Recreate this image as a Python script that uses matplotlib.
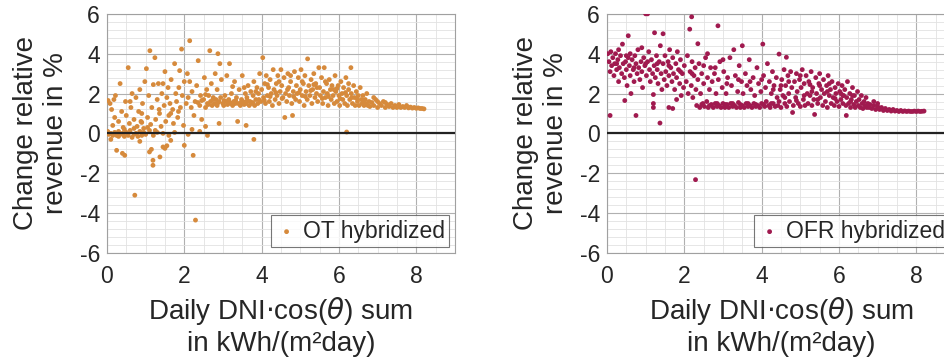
import matplotlib
matplotlib.use("Agg")
import matplotlib.pyplot as plt
import numpy as np
from matplotlib.ticker import MultipleLocator

plt.rcParams['font.family'] = ['Liberation Sans', 'DejaVu Sans']
plt.rcParams['axes.unicode_minus'] = False

# OT hybridized: (daily DNI*cos sum, change of revenue in %)
ot_points = np.array([
    (0.02,0.1),(0.05,-0.05),(0.1,0.0),(0.15,-0.1),(0.2,0.05),(0.25,-0.1),(0.3,0.1),(0.35,-0.05),(0.4,0.0),
    (0.45,-0.15),(0.5,0.05),(0.55,-0.1),(0.6,0.15),(0.7,-0.05),(0.75,0.0),(0.8,-0.15),(0.85,0.1),(0.9,-0.1),
    (0.95,0.05),(1.0,-0.05),(1.1,0.15),(1.2,-0.1),(1.3,0.05),(1.45,0.0),(1.6,-0.1),(1.75,0.05),(2.1,-0.05),
    (2.4,0.1),(2.6,-0.1),(0.3,-0.15),(0.65,-0.2),
    (0.25,-0.85),(0.4,-1.0),(0.46,-1.1),(1.1,-0.93),(1.15,-0.8),(1.19,-1.35),(1.19,-1.6),(1.37,-1.18),
    (1.45,-0.68),(1.5,-0.75),(1.55,-0.62),(2.0,-0.6),(2.23,-1.1),(3.8,-0.3),(0.72,-3.1),(2.29,-4.35),
    (0.85,-0.4),(1.65,-0.35),(0.1,-0.3),(6.2,0.07),
    (0.03,1.65),(0.08,1.5),(0.12,1.2),(0.15,0.4),(0.2,0.8),(0.22,1.9),(0.3,0.6),(0.34,2.5),(0.38,1.1),
    (0.42,0.3),(0.48,1.6),(0.5,0.9),(0.55,3.3),(0.58,0.5),(0.62,1.3),(0.65,2.0),(0.7,0.7),(0.75,1.8),
    (0.78,0.35),(0.82,1.1),(0.85,2.2),(0.88,0.6),(0.92,1.5),(0.95,0.25),(0.98,2.6),(1.02,3.25),(1.05,0.8),
    (1.08,1.9),(1.11,4.15),(1.13,0.45),(1.16,1.3),(1.2,2.45),(1.24,3.8),(1.26,0.7),(1.3,1.7),(1.33,2.5),
    (1.36,1.0),(1.4,0.35),(1.42,2.0),(1.45,2.5),(1.48,1.4),(1.5,3.1),(1.52,0.6),(1.55,1.8),(1.58,2.3),
    (1.6,0.9),(1.63,1.5),(1.66,2.7),(1.7,1.2),(1.72,0.5),(1.75,3.5),(1.78,2.0),(1.8,1.6),(1.83,0.8),
    (1.86,2.3),(1.88,3.15),(1.9,1.3),(1.93,4.23),(1.95,1.9),(1.98,0.4),(2.0,2.6),(0.18,1.7),(0.6,1.6),
    (0.9,1.0),(1.35,1.2),(1.65,1.0),(1.85,1.1),
    (2.05,1.5),(2.08,3.0),(2.1,1.8),(2.14,4.65),(2.14,2.6),(2.18,1.3),(2.2,2.1),(2.25,0.9),(2.28,1.6),
    (2.32,2.4),(2.36,3.65),(2.4,1.4),(2.42,1.9),(2.45,0.7),(2.5,1.7),(2.52,2.8),(2.55,1.3),(2.58,2.2),
    (2.6,1.5),(2.63,1.9),(2.66,4.15),(2.68,1.6),(2.7,2.5),(2.72,1.4),(2.75,1.8),(2.78,1.5),(2.8,3.0),
    (2.82,1.7),(2.85,1.4),(2.87,4.0),(2.9,1.6),(2.92,3.5),(2.94,1.8),(2.96,2.7),(3.0,1.5),(3.02,1.4),
    (3.05,1.9),(3.08,1.6),(3.1,2.9),(3.12,1.45),(3.15,1.7),(3.17,3.5),(3.2,1.5),(3.22,2.0),(3.25,1.4),
    (3.28,1.6),(3.3,2.6),(3.32,1.5),(3.35,1.8),(3.38,0.6),(3.4,1.5),(3.42,2.2),(3.45,1.4),(3.48,1.7),
    (3.5,2.9),(3.52,1.6),(3.55,1.45),(3.58,2.0),(3.6,1.5),(3.62,1.8),(3.65,2.4),(3.68,1.4),(3.7,1.6),
    (3.72,2.1),(3.75,1.5),(3.78,1.9),(3.8,2.6),(3.82,1.4),(3.85,1.7),(3.88,2.3),(3.9,1.5),(3.92,2.0),
    (3.95,3.0),(3.98,1.6),(4.0,2.2),(4.03,3.8),(4.05,1.8),(4.08,2.5),(4.1,1.5),(4.12,2.9),(4.15,1.9),
    (4.18,2.3),(4.2,1.6),(4.22,2.7),(4.25,2.0),(4.28,1.4),(4.3,3.2),(4.32,2.2),(4.35,1.7),(4.38,2.5),
    (4.4,1.9),(4.42,2.9),(4.45,1.5),(4.48,2.1),(2.2,0.2),(2.9,0.5),(3.6,0.4),(2.55,0.35),
    (4.5,3.2),(4.52,2.4),(4.55,1.8),(4.58,2.8),(4.6,0.8),(4.62,2.0),(4.65,1.6),(4.68,3.0),(4.7,2.3),
    (4.72,1.9),(4.75,2.6),(4.78,1.5),(4.8,0.9),(4.82,2.1),(4.85,3.1),(4.88,1.7),(4.9,2.4),(4.92,2.0),
    (4.95,2.8),(4.98,1.6),(5.0,2.2),(5.02,3.2),(5.05,1.9),(5.08,2.5),(5.1,1.4),(5.12,2.9),(5.15,2.1),
    (5.18,1.7),(5.19,3.74),(5.22,2.4),(5.25,1.9),(5.28,2.7),(5.3,1.5),(5.32,2.2),(5.35,3.0),(5.38,1.8),
    (5.4,2.5),(5.42,2.0),(5.45,1.6),(5.48,3.3),(5.5,2.3),(5.52,1.9),(5.55,2.8),(5.58,1.5),(5.6,2.1),
    (5.62,3.3),(5.65,1.8),(5.68,2.5),(5.7,2.0),(5.72,1.4),(5.75,2.7),(5.78,2.2),(5.8,1.7),(5.82,2.4),
    (5.85,1.9),(5.88,1.5),(5.9,2.9),(5.92,2.1),(5.95,1.6),(5.98,2.4),(6.0,1.9),(6.02,1.4),(6.05,2.6),
    (6.08,2.0),(6.1,1.7),(6.12,2.3),(6.15,1.5),(6.18,2.8),(6.2,1.9),(6.22,1.4),(6.25,2.2),(6.28,1.7),
    (6.31,3.3),(6.32,2.0),(6.35,1.5),(6.38,2.4),(6.4,1.8),(6.42,1.4),(6.45,2.1),(6.48,1.6),(6.5,1.9),
    (6.52,1.4),(6.55,2.3),(6.58,1.7),(6.6,1.5),(6.62,1.9),(6.65,1.4),(6.68,1.7),(6.7,1.5),(6.72,2.0),
    (6.75,1.4),(6.78,1.6),
    (6.8,1.35),(6.85,1.55),(6.9,1.4),(6.95,1.7),(7.0,1.3),(7.05,1.5),(7.1,1.4),(7.15,1.6),(7.2,1.3),
    (7.25,1.45),(7.3,1.35),(7.35,1.5),(7.4,1.3),(7.45,1.4),(7.5,1.3),(7.55,1.45),(7.6,1.3),(7.65,1.35),
    (7.7,1.3),(7.75,1.4),(7.8,1.28),(7.85,1.32),(7.9,1.27),(7.95,1.3),(8.0,1.26),(8.05,1.28),(8.1,1.25),
    (8.15,1.25),(8.2,1.23),(7.0,1.6),(7.2,1.55),(6.9,1.8),
    (2.35,1.55),(2.45,1.65),(2.62,1.45),(2.74,1.7),(2.88,1.55),(3.03,1.65),(3.18,1.55),(3.33,1.65),
    (3.47,1.55),(3.63,1.65),(3.77,1.55),(3.93,1.7),(4.07,1.65),(4.22,1.85),(4.37,2.05),(4.53,1.75),
    (4.67,2.2),(4.83,1.85),(4.97,2.05),(5.13,1.85),(5.27,2.15),(5.43,2.3),(5.57,1.75),(5.73,1.85),
    (5.87,2.2),(6.03,1.75),(6.17,2.05),(6.33,1.8),(6.47,1.75),(6.63,1.65),(4.45,2.6),(4.75,2.9),
    (5.05,2.6),(5.35,2.45),(5.65,2.6),(5.95,2.25),(6.25,2.5),(4.15,2.45),(3.85,2.1),(3.55,2.3),
    (2.55,1.95),(2.85,2.2),(3.25,2.35),(0.45,0.2),(0.7,0.25),(1.05,0.3),(1.25,0.15),(0.9,0.55),
])

# OFR hybridized
ofr_points = np.array([
    (2.29,-2.32),(1.37,0.52),(0.08,0.9),(0.75,0.9),
    (0.02,4.0),(0.05,3.6),(0.08,3.1),(0.1,4.1),(0.12,3.4),(0.15,3.8),(0.18,2.9),(0.2,3.5),(0.22,4.0),
    (0.25,3.2),(0.28,3.7),(0.3,2.6),(0.32,3.3),(0.35,3.9),(0.38,3.0),(0.4,4.48),(0.42,3.5),(0.45,2.8),
    (0.46,1.65),(0.48,3.6),(0.5,3.2),(0.52,2.4),(0.55,4.9),(0.55,3.8),(0.58,3.4),(0.6,2.9),(0.62,2.0),
    (0.65,3.7),(0.68,3.2),(0.7,2.6),(0.72,3.9),(0.75,3.5),(0.78,3.0),(0.8,4.2),(0.82,3.3),(0.85,2.7),
    (0.88,3.6),(0.9,3.1),(0.92,2.3),(0.95,3.8),(0.98,3.4),(1.0,6.0),(1.05,6.0),(1.02,2.9),(1.05,3.6),
    (1.08,4.1),(1.1,3.2),(1.12,2.6),(1.15,3.7),(1.18,3.0),(1.2,1.95),(1.2,1.5),(1.2,1.3),(1.22,3.4),
    (1.23,5.05),(1.25,2.8),(1.28,3.9),(1.3,3.2),(1.32,2.5),(1.35,3.6),(1.38,4.4),(1.4,3.0),(1.42,2.2),
    (1.45,5.0),(1.45,3.5),(1.48,2.7),(1.5,3.9),(1.52,3.1),(1.55,2.4),(1.58,3.6),(1.6,1.3),(1.6,2.9),
    (1.62,4.2),(1.65,3.3),(1.68,2.6),(1.7,1.25),(1.7,3.8),(1.72,3.0),(1.75,2.2),(1.78,3.5),(1.8,1.7),
    (1.8,2.8),(1.82,4.1),(1.85,3.2),(1.88,2.5),(1.9,3.7),(1.92,1.9),(1.95,3.0),(1.98,2.3),(0.3,4.2),
    (0.6,4.0),(0.9,4.3),
    (2.0,3.4),(2.05,2.6),(2.08,3.9),(2.1,2.0),(2.14,5.23),(2.15,3.1),(2.18,2.4),(2.19,5.85),(2.2,3.6),
    (2.22,1.8),(2.25,2.9),(2.28,3.3),(2.3,2.2),(2.32,1.4),(2.35,4.5),(2.35,2.7),(2.38,3.5),(2.4,1.3),
    (2.42,2.0),(2.45,3.0),(2.48,1.5),(2.5,2.5),(2.52,1.35),(2.55,3.8),(2.58,1.6),(2.6,2.8),(2.62,1.3),
    (2.65,2.2),(2.68,3.3),(2.7,1.45),(2.72,2.6),(2.75,1.3),(2.78,3.0),(2.8,1.5),(2.82,2.0),(2.85,1.35),
    (2.87,5.4),(2.88,2.7),(2.9,1.4),(2.92,3.6),(2.95,1.3),(2.98,2.3),(3.0,1.5),(3.02,3.1),(3.05,1.3),
    (3.08,2.0),(3.1,1.45),(3.12,2.8),(3.15,1.3),(3.18,3.8),(3.2,1.5),(3.22,2.4),(3.25,1.35),(3.28,4.2),
    (3.3,1.4),(3.32,2.9),(3.35,1.3),(3.38,2.1),(3.4,1.55),(3.42,3.4),(3.45,1.3),(3.48,2.6),(3.5,4.4),
    (3.5,1.4),(3.52,2.0),(3.55,1.3),(3.58,3.0),(3.6,1.5),(3.62,2.4),(3.65,1.35),(3.68,3.7),(3.7,1.4),
    (3.72,2.2),(3.75,1.3),(3.78,2.8),(3.8,1.5),(3.82,1.9),(3.85,1.35),(3.88,3.3),(3.9,1.4),(3.92,2.5),
    (3.95,1.3),(3.98,2.1),(4.0,1.5),(4.03,4.48),(4.05,2.9),(4.08,1.35),(4.1,2.3),(4.12,1.6),(4.15,3.5),
    (4.18,1.4),(4.2,2.6),(4.22,1.3),(4.25,2.0),(4.28,3.1),(4.3,1.5),(4.32,2.4),(4.35,1.35),(4.38,2.8),
    (4.4,1.8),(4.42,1.4),(4.45,3.98),(4.48,2.2),(3.0,3.7),(2.6,4.0),
    (4.5,1.3),(4.52,2.7),(4.55,1.9),(4.58,3.2),(4.6,1.5),(4.62,2.4),(4.64,3.82),(4.65,1.35),(4.68,2.9),
    (4.7,2.0),(4.72,1.6),(4.75,3.1),(4.78,2.3),(4.8,1.05),(4.82,1.4),(4.85,2.6),(4.88,1.8),(4.9,3.0),
    (4.92,2.1),(4.95,1.5),(4.98,2.7),(5.0,1.35),(5.02,2.3),(5.05,3.2),(5.08,1.7),(5.1,2.5),(5.12,1.4),
    (5.15,2.9),(5.18,2.0),(5.2,1.5),(5.22,2.6),(5.25,1.9),(5.28,3.1),(5.3,1.4),(5.32,2.3),(5.35,1.7),
    (5.37,0.95),(5.4,2.8),(5.42,2.0),(5.45,1.5),(5.48,2.5),(5.5,3.0),(5.52,1.8),(5.55,2.2),(5.58,1.4),
    (5.6,2.7),(5.62,2.0),(5.65,1.6),(5.68,2.4),(5.7,1.3),(5.72,2.9),(5.75,1.9),(5.78,2.2),(5.8,1.5),
    (5.82,2.6),(5.85,1.8),(5.88,1.4),(5.9,2.3),(5.92,2.0),(5.95,1.6),(5.98,2.5),(6.0,1.35),(6.02,2.1),
    (6.05,1.7),(6.08,2.4),(6.1,1.5),(6.12,1.9),(6.15,2.2),(6.18,1.4),(6.19,0.9),(6.2,1.8),(6.22,2.6),
    (6.25,1.5),(6.28,2.0),(6.3,1.3),(6.32,1.7),(6.35,2.3),(6.38,1.45),(6.4,1.9),(6.42,1.3),(6.45,1.6),
    (6.48,2.1),(6.5,1.4),(6.52,1.7),(6.55,1.3),(6.58,1.9),(6.6,1.5),(6.62,1.25),(6.65,1.6),(6.68,1.4),
    (6.7,1.8),(6.72,1.3),(6.75,1.5),(6.78,1.3),
    (6.8,1.45),(6.85,1.25),(6.9,1.4),(6.95,1.2),(7.0,1.35),(7.05,1.2),(7.1,1.3),(7.15,1.15),(7.2,1.25),
    (7.25,1.15),(7.3,1.2),(7.35,1.12),(7.4,1.2),(7.45,1.12),(7.5,1.15),(7.55,1.1),(7.6,1.15),(7.65,1.1),
    (7.7,1.13),(7.75,1.1),(7.8,1.12),(7.85,1.1),(7.9,1.1),(7.95,1.12),(8.0,1.1),(8.05,1.12),(8.1,1.1),
    (8.15,1.11),(8.2,1.12),(7.0,1.5),(6.9,1.6),
    (2.45,1.45),(2.65,1.4),(2.85,1.5),(3.05,1.45),(3.25,1.5),(3.45,1.45),(3.65,1.5),(3.85,1.45),
    (4.05,1.45),(4.25,1.5),(4.45,1.6),(4.6,1.8),(4.9,1.65),(5.1,1.9),(5.3,2.1),(5.5,2.4),(5.7,2.1),
    (5.9,1.75),(6.1,1.9),(6.3,1.6),(4.5,2.4),(4.7,2.6),(5.0,2.9),(5.25,2.45),(5.45,1.7),(5.75,2.5),
    (6.05,2.0),(6.35,1.9),(2.5,3.4),(2.8,3.3),(3.1,2.5),(3.4,2.7),(3.7,2.6),(4.0,2.7),(4.3,2.2),
    (0.25,3.5),(0.5,3.9),(0.7,3.3),(1.0,3.5),(1.3,3.5),(1.6,3.4),(1.9,3.1),(2.2,3.0),
])

series = [
    (ot_points, "#d68a3c", "OT hybridized"),
    (ofr_points, "#a01a4f", "OFR hybridized"),
]
x_ticks = [0, 2, 4, 6, 8]
y_ticks = [-6, -4, -2, 0, 2, 4, 6]

fig = plt.figure(figsize=(9.44, 3.64), dpi=100)
positions = [[0.1133, 0.305, 0.3686, 0.657], [0.643, 0.305, 0.3686, 0.657]]
txt = "#262626"

for pos, (pts, col, name) in zip(positions, series):
    ax = fig.add_axes(pos)
    ax.scatter(pts[:, 0], pts[:, 1], s=12, color=col, edgecolors="none", label=name, zorder=3)
    ax.axhline(0, color="#222222", lw=1.6, zorder=4)
    ax.set_xlim(0, 9)
    ax.set_ylim(-6, 6)
    ax.set_xticks(x_ticks)
    ax.set_yticks(y_ticks)
    ax.xaxis.set_minor_locator(MultipleLocator(0.5))
    ax.yaxis.set_minor_locator(MultipleLocator(0.4))
    ax.grid(True, which="major", color="#b0b0b0", lw=0.8)
    ax.grid(True, which="minor", color="#e2e2e2", lw=0.6)
    ax.set_axisbelow(True)
    ax.tick_params(which="both", length=0, labelsize=16.5, colors=txt)
    ax.tick_params(axis="x", pad=9)
    ax.tick_params(axis="y", pad=5)
    for s in ax.spines.values():
        s.set_color("#a0a0a0")
        s.set_linewidth(0.8)
    ax.set_ylabel("Change relative\nrevenue in %", fontsize=20, color=txt, labelpad=8,
                  linespacing=1.2)
    ax.set_xlabel(r"Daily DNI$\cdot$cos($\theta$) sum" + "\nin kWh/(m²day)", fontsize=20,
                  color=txt, labelpad=5, linespacing=1.2)
    leg = ax.legend(loc="lower right", fontsize=16.5, frameon=True, fancybox=False,
                    handletextpad=0.2, borderpad=0.2, markerscale=1.0, handlelength=1.0,
                    borderaxespad=0.25)
    leg.get_frame().set_edgecolor("#555555")
    leg.get_frame().set_linewidth(0.8)
    for t in leg.get_texts():
        t.set_color(txt)

fig.savefig("out.png", dpi=100)
